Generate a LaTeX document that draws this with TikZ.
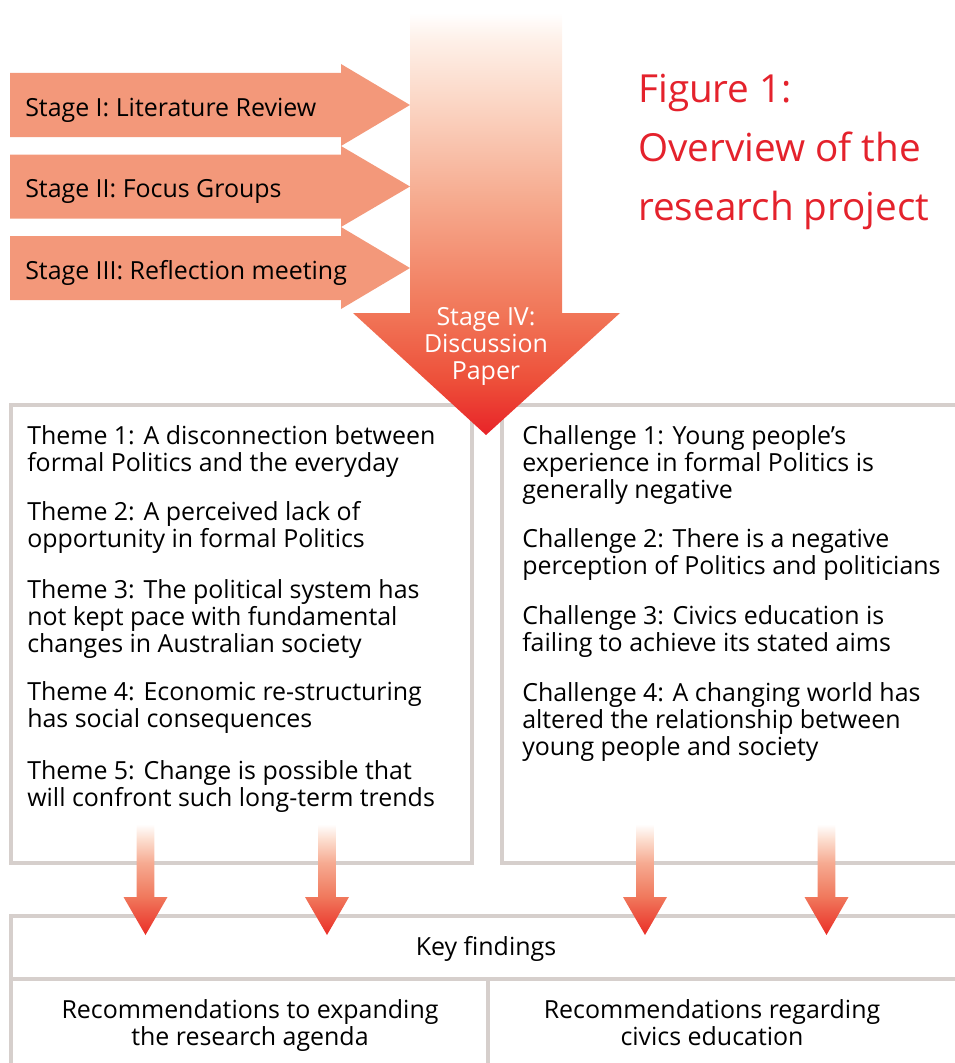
\documentclass[tikz,border=0pt]{standalone}
\usepackage{fontspec}
\setmainfont{Open Sans}
\definecolor{stagec}{RGB}{243,152,122}
\definecolor{borderc}{RGB}{214,207,204}
\definecolor{titlec}{RGB}{228,34,44}
\definecolor{ba1}{RGB}{232,35,40}
\definecolor{ba2}{RGB}{237,80,58}
\definecolor{ba3}{RGB}{241,118,88}
\definecolor{ba4}{RGB}{246,170,142}
\definecolor{ba5}{RGB}{251,215,198}
\definecolor{ba6}{RGB}{254,240,232}
\definecolor{sa1}{RGB}{234,45,38}
\definecolor{sa2}{RGB}{240,120,92}
\definecolor{sa3}{RGB}{246,170,145}
\definecolor{sa4}{RGB}{252,220,205}
\pgfdeclareverticalshading{bigshade}{100bp}{color(0bp)=(ba1); color(25bp)=(ba1); color(31.5bp)=(ba2); color(39.5bp)=(ba3); color(52.8bp)=(ba4); color(64.7bp)=(ba5); color(71.8bp)=(ba6); color(75bp)=(white); color(100bp)=(white)}
\pgfdeclareverticalshading{smallshade}{100bp}{color(0bp)=(sa1); color(25bp)=(sa1); color(42.1bp)=(sa2); color(57.4bp)=(sa3); color(67.8bp)=(sa4); color(75bp)=(white); color(100bp)=(white)}
\tikzset{
  boxline/.style={draw=borderc, line width=3pt},
  bodytext/.style={inner sep=0pt, font=\fontsize{18.7}{20.25}\selectfont, align=left, anchor=base west},
  centertext/.style={inner sep=0pt, font=\fontsize{18.7}{20.25}\selectfont, align=center, anchor=base},
  stagearrow/.style={fill=stagec, draw=none},
  smallarrow/.style={shading=smallshade, draw=none},
}
\begin{document}
\begin{tikzpicture}[x=0.75pt, y=-0.75pt]
\useasboundingbox (0,0) rectangle (955,1063);
% boxes
\draw[boxline] (10.5,405) rectangle (471.5,863);
\draw[boxline] (501.5,405) rectangle (975,863);
\draw[boxline] (10.5,915.5) rectangle (975,978.5);
\draw[boxline] (10.5,978.5) rectangle (488,1090);
\draw[boxline] (488,978.5) rectangle (975,1090);
% stage arrows
\fill[stagearrow] (10,73) -- (341,73) -- (341,64) -- (410,105) -- (341,146) -- (341,137) -- (10,137) -- cycle;
\fill[stagearrow] (10,154.5) -- (341,154.5) -- (341,146) -- (410,186.5) -- (341,227) -- (341,218.5) -- (10,218.5) -- cycle;
\fill[stagearrow] (10,236) -- (341,236) -- (341,227) -- (410,268) -- (341,309) -- (341,300) -- (10,300) -- cycle;
% big arrow
\shade[shading=bigshade] (410,13) -- (562,13) -- (562,313) -- (620,313) -- (486,435) -- (353,313) -- (410,313) -- cycle;
% small arrows
\foreach \cx in {145.5,327,645,826.5}{
  \shade[smallarrow] (\cx-8.8,824) -- (\cx+8.8,824) -- (\cx+8.8,897) -- (\cx+22,897) -- (\cx,935) -- (\cx-22,897) -- (\cx-8.8,897) -- cycle;
}
% texts (base anchor = baseline of the last line)
\node[bodytext] (s1) at (25,116) {Stage I: Literature Review};
\node[bodytext] (s2) at (25,197) {Stage II: Focus Groups};
\node[bodytext] (s3) at (25,279) {Stage III: Reflection meeting};
\node[centertext, text=white] (s4) at (486,379) {Stage IV:\\Discussion\\Paper};
\node[inner sep=0pt, anchor=base west, align=left, text=titlec, font=\fontsize{29}{43.9}\selectfont] (title) at (638,220) {Figure 1:\\Overview of the\\research project};
\node[bodytext] (t1) at (27,471) {Theme 1: A disconnection between\\formal Politics and the everyday};
\node[bodytext] (t2) at (27,547) {Theme 2: A perceived lack of\\opportunity in formal Politics};
\node[bodytext] (t3) at (27,652) {Theme 3: The political system has\\not kept pace with fundamental\\changes in Australian society};
\node[bodytext] (t4) at (27,727) {Theme 4: Economic re-structuring\\has social consequences};
\node[bodytext] (t5) at (27,806) {Theme 5: Change is possible that\\will confront such long-term trends};
\node[bodytext] (c1) at (522,498) {Challenge 1: Young people’s\\experience in formal Politics is\\generally negative};
\node[bodytext] (c2) at (522,574) {Challenge 2: There is a negative\\perception of Politics and politicians};
\node[bodytext] (c3) at (522,651) {Challenge 3: Civics education is\\failing to achieve its stated aims};
\node[bodytext] (c4) at (522,755) {Challenge 4: A changing world has\\altered the relationship between\\young people and society};
\node[centertext] (kf) at (486,955) {Key findings};
\node[centertext] (r1) at (250,1045) {Recommendations to expanding\\the research agenda};
\node[centertext] (r2) at (712,1045) {Recommendations regarding\\civics education};
\end{tikzpicture}
\end{document}
